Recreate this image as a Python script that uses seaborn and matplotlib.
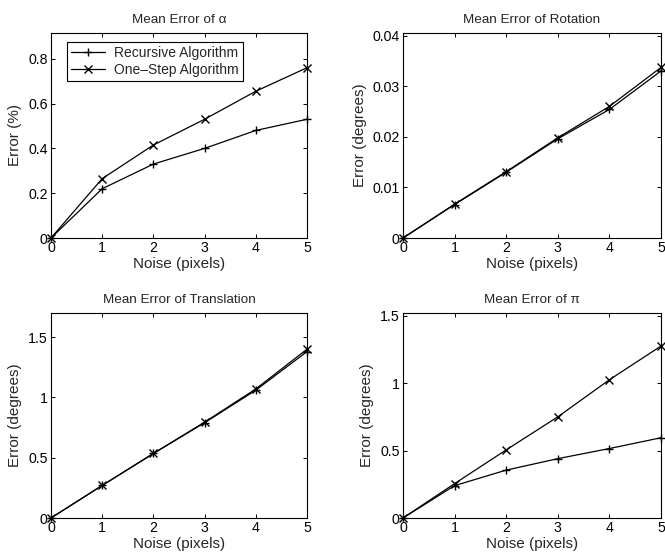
import matplotlib
matplotlib.use("Agg")
import matplotlib.pyplot as plt
import seaborn as sns
import pandas as pd

noise = [0, 1, 2, 3, 4, 5]
series_names = ["Recursive Algorithm", "One\u2013Step Algorithm"]

alpha_rec = [0, 0.22, 0.33, 0.40, 0.48, 0.53]
alpha_one = [0, 0.265, 0.415, 0.53, 0.655, 0.76]
rot_rec = [0, 0.0066, 0.0130, 0.0196, 0.0254, 0.0330]
rot_one = [0, 0.0067, 0.0131, 0.0198, 0.0260, 0.0337]
trans_rec = [0, 0.27, 0.535, 0.79, 1.06, 1.38]
trans_one = [0, 0.27, 0.535, 0.795, 1.07, 1.40]
pi_rec = [0, 0.24, 0.355, 0.44, 0.515, 0.595]
pi_one = [0, 0.255, 0.505, 0.75, 1.025, 1.275]

titles = ["Mean Error of \u03b1", "Mean Error of Rotation",
          "Mean Error of Translation", "Mean Error of \u03c0"]
ylabels = ["Error (%)", "Error (degrees)", "Error (degrees)", "Error (degrees)"]
yticks = [[0, 0.2, 0.4, 0.6, 0.8], [0, 0.01, 0.02, 0.03, 0.04],
          [0, 0.5, 1, 1.5], [0, 0.5, 1, 1.5]]
yticklabels = [["0", "0.2", "0.4", "0.6", "0.8"], ["0", "0.01", "0.02", "0.03", "0.04"],
               ["0", "0.5", "1", "1.5"], ["0", "0.5", "1", "1.5"]]
ylims = [(0, 0.915), (0, 0.0405), (0, 1.70), (0, 1.52)]

sns.set_theme(style="white")
plt.rcParams["font.family"] = ["Liberation Sans", "DejaVu Sans"]
plt.rcParams["axes.edgecolor"] = "black"
plt.rcParams["axes.linewidth"] = 0.8

fig = plt.figure(figsize=(6.65, 5.54), dpi=100)
positions = [
    [51/665, 1-238/554, 256/665, 205/554],
    [403/665, 1-238/554, 258/665, 205/554],
    [51/665, 1-518/554, 256/665, 205/554],
    [403/665, 1-518/554, 258/665, 205/554],
]
data_pairs = [(alpha_rec, alpha_one), (rot_rec, rot_one),
              (trans_rec, trans_one), (pi_rec, pi_one)]

for i, (pos, (rec, one)) in enumerate(zip(positions, data_pairs)):
    ax = fig.add_axes(pos)
    df = pd.DataFrame({
        "Noise": noise + noise,
        "Error": rec + one,
        "Method": [series_names[0]] * len(noise) + [series_names[1]] * len(noise),
    })
    sns.lineplot(data=df, x="Noise", y="Error", hue="Method", style="Method",
                 markers={series_names[0]: "+", series_names[1]: "x"},
                 dashes=False, palette=["black", "black"], linewidth=0.9,
                 markersize=6, markeredgewidth=1.0, markeredgecolor="black",
                 ax=ax, legend=(i == 0), clip_on=False)
    ax.set_xlim(0, 5)
    ax.set_ylim(*ylims[i])
    ax.set_xticks(noise)
    ax.set_xticklabels([str(n) for n in noise], fontsize=10.2)
    ax.set_yticks(yticks[i])
    ax.set_yticklabels(yticklabels[i], fontsize=10.2)
    ax.set_xlabel("Noise (pixels)", fontsize=11, labelpad=1)
    ax.set_ylabel(ylabels[i], fontsize=11, labelpad=4)
    ax.set_title(titles[i], fontsize=9.7, pad=7)
    ax.tick_params(direction="in", length=3, width=0.7, top=True, right=True,
                   bottom=True, left=True, pad=2.5, colors="black")
    for s in ax.spines.values():
        s.set_visible(True)
        s.set_color("black")
    if i == 0:
        leg = ax.legend(loc="upper left", bbox_to_anchor=(16/256, 196/205),
                        borderaxespad=0, fontsize=10,
                        frameon=True, fancybox=False, edgecolor="black",
                        framealpha=1, borderpad=0.3, handlelength=2.4,
                        handletextpad=0.7, labelspacing=0.2, title=None)
        leg.get_frame().set_linewidth(0.8)
        for h in leg.legend_handles:
            h.set_markeredgecolor("black")

fig.savefig("out.png", dpi=100)
